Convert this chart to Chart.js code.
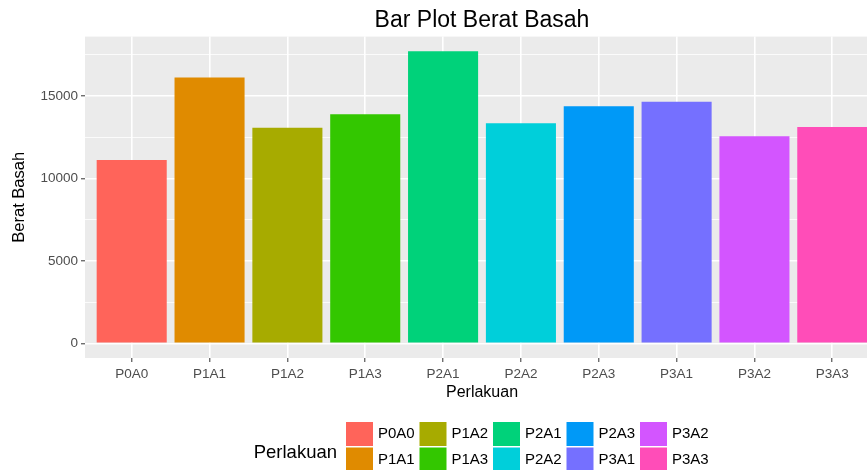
<!DOCTYPE html>
<html lang="id">
<head>
  <meta charset="UTF-8" />
  <title>Bar Plot Berat Basah</title>
  <script src="https://cdn.jsdelivr.net/npm/chart.js"></script>
  <style>
    html, body {
      margin: 0;
      padding: 0;
      background: #fff;
      overflow: hidden;
    }
    #wrap {
      width: 880px;
      height: 470px;
    }
  </style>
</head>
<body>
  <div id="wrap"><canvas id="beratChart" width="880" height="470"></canvas></div>

  <script>
    // data
    const perlakuan = ["P0A0", "P1A1", "P1A2", "P1A3", "P2A1", "P2A2", "P2A3", "P3A1", "P3A2", "P3A3"];
    const beratBasah = [11125, 16125, 13080, 13885, 17715, 13345, 14370, 14650, 12555, 13120];
    const warna = ["#FF645A", "#E08B00", "#A7AB00", "#33C700", "#00D27A", "#00CFDA", "#0099F7", "#7570FF", "#D355FF", "#FF4DB8"];
    const yMajor = [0, 5000, 10000, 15000];
    const yMinor = [2500, 7500, 12500, 17500];

    const FONT = '"Liberation Sans", Arial, sans-serif';
    Chart.defaults.font.family = FONT;

    // grey ggplot panel behind the grid
    const panelBg = {
      id: "panelBg",
      beforeDraw(chart) {
        const { ctx, chartArea: a } = chart;
        ctx.save();
        ctx.fillStyle = "#EBEBEB";
        ctx.fillRect(a.left, a.top, a.right - a.left, a.bottom - a.top);
        ctx.restore();
      }
    };

    // legend at the bottom, 2 rows filled column by column
    const legendBawah = {
      id: "legendBawah",
      afterDraw(chart) {
        const ctx = chart.ctx;
        ctx.save();
        ctx.textBaseline = "middle";
        ctx.fillStyle = "#000";
        ctx.textAlign = "right";
        ctx.font = "18.5px " + FONT;
        ctx.fillText("Perlakuan", 337, 453);

        ctx.textAlign = "left";
        ctx.font = "15px " + FONT;
        perlakuan.forEach((p, i) => {
          const col = Math.floor(i / 2);
          const row = i % 2;
          const x = 346 + col * 73.5;
          const y = 422 + row * 25.5;
          ctx.fillStyle = warna[i];
          ctx.fillRect(x, y, 27, 24);
          ctx.fillStyle = "#000";
          ctx.fillText(p, x + 32, y + 12);
        });
        ctx.restore();
      }
    };

    new Chart(document.getElementById("beratChart"), {
      type: "bar",
      data: {
        datasets: [{
          label: "Berat Basah",
          data: perlakuan.map((p, i) => ({ x: i + 1, y: beratBasah[i] })),
          backgroundColor: warna,
          barPercentage: 0.9,
          categoryPercentage: 1
        }]
      },
      options: {
        responsive: false,
        animation: false,
        layout: { padding: { left: 0, right: 1, top: 0, bottom: 66 } },
        plugins: {
          legend: { display: false },
          tooltip: { enabled: false },
          title: {
            display: true,
            text: "Bar Plot Berat Basah",
            fullSize: false,
            color: "#000",
            font: { size: 23, weight: "normal" },
            padding: { top: 7, bottom: 2 }
          }
        },
        scales: {
          x: {
            type: "linear",
            offset: false,
            min: 0.4,
            max: 10.6,
            afterBuildTicks: s => { s.ticks = perlakuan.map((p, i) => ({ value: i + 1 })); },
            afterFit: s => { s.height = 46; },
            ticks: {
              callback: v => perlakuan[v - 1],
              color: "#4D4D4D",
              font: { size: 13.5 },
              padding: 4,
              maxRotation: 0,
              autoSkip: false
            },
            grid: { offset: false, color: "#fff", lineWidth: 1.6, tickColor: "#333", tickLength: 4, tickWidth: 1 },
            border: { display: false },
            title: {
              display: true,
              text: "Perlakuan",
              color: "#000",
              font: { size: 16 },
              padding: { top: 0, bottom: 2 }
            }
          },
          y: {
            min: -886,
            max: 18600,
            afterBuildTicks: s => {
              s.ticks = [...yMajor, ...yMinor].sort((a, b) => a - b).map(v => ({ value: v }));
            },
            afterFit: s => { s.width = 85; },
            ticks: {
              callback: v => yMajor.includes(v) ? String(v) : "",
              color: "#4D4D4D",
              font: { size: 13.5 },
              padding: 3
            },
            grid: {
              color: "#fff",
              lineWidth: c => yMajor.includes(c.tick.value) ? 1.6 : 0.8,
              tickColor: c => yMajor.includes(c.tick.value) ? "#333" : "rgba(0,0,0,0)",
              tickLength: 4,
              tickWidth: 1
            },
            border: { display: false },
            title: {
              display: true,
              text: "Berat Basah",
              color: "#000",
              font: { size: 16.5 },
              padding: { top: 10 }
            }
          }
        }
      },
      plugins: [panelBg, legendBawah]
    });
  </script>
</body>
</html>
